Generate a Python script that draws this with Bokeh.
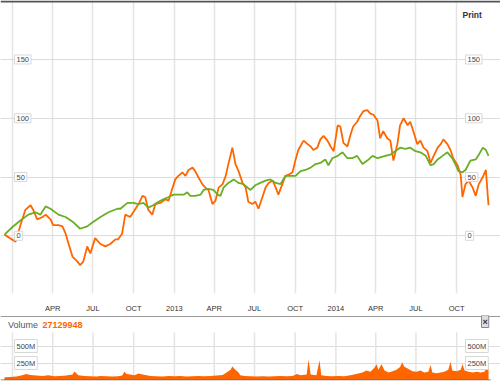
import pandas as pd
from bokeh.plotting import figure
from bokeh.layouts import column
from bokeh.models import Range1d, FixedTicker, CustomJSTickFormatter, Label
from bokeh.embed import file_html
from bokeh.resources import INLINE

# ---------------- data ----------------
x_start, x_end = "2011-12-05", "2015-01-08"
data_end = "2014-12-17"
grid_dates = ["2012-01-01", "2012-04-01", "2012-07-01", "2012-10-01", "2013-01-01", "2013-04-01",
              "2013-07-01", "2013-10-01", "2014-01-01", "2014-04-01", "2014-07-01", "2014-10-01"]
tick_dates = grid_dates[1:]
tick_labels = ["APR", "JUL", "OCT", "2013", "APR", "JUL", "OCT", "2014", "APR", "JUL", "OCT"]
price_ticks = [0, 50, 100, 150]
vol_ticks = [250e6, 500e6]
vol_tick_labels = ["250M", "500M"]
last_volume = "27129948"

orange_dates = ["2011-12-14", "2012-01-08", "2012-01-19", "2012-01-30", "2012-02-11", "2012-02-17", "2012-02-26",
                "2012-03-09", "2012-03-16", "2012-03-27", "2012-04-02", "2012-04-14", "2012-04-23", "2012-04-30",
                "2012-05-07", "2012-05-16", "2012-05-27", "2012-06-02", "2012-06-09", "2012-06-18", "2012-06-25",
                "2012-07-06", "2012-07-18", "2012-07-29", "2012-08-09", "2012-08-21", "2012-08-27", "2012-09-05",
                "2012-09-12", "2012-09-23", "2012-09-30", "2012-10-12", "2012-10-21", "2012-10-27", "2012-11-03",
                "2012-11-12", "2012-11-19", "2012-11-30", "2012-12-12", "2012-12-19", "2012-12-28", "2013-01-03",
                "2013-01-10", "2013-01-19", "2013-01-26", "2013-02-02", "2013-02-11", "2013-02-17", "2013-02-24",
                "2013-03-05", "2013-03-12", "2013-03-19", "2013-03-28", "2013-04-04", "2013-04-11", "2013-04-20",
                "2013-04-27", "2013-05-03", "2013-05-12", "2013-05-19", "2013-05-26", "2013-06-04", "2013-06-11",
                "2013-06-17", "2013-06-26", "2013-07-03", "2013-07-10", "2013-07-19", "2013-07-26", "2013-08-02",
                "2013-08-11", "2013-08-18", "2013-08-24", "2013-09-02", "2013-09-09", "2013-09-16", "2013-09-25",
                "2013-10-02", "2013-10-08", "2013-10-20", "2013-10-29", "2013-11-05", "2013-11-11", "2013-11-20",
                "2013-11-27", "2013-12-04", "2013-12-13", "2013-12-20", "2013-12-27", "2014-01-05", "2014-01-11",
                "2014-01-18", "2014-01-27", "2014-02-03", "2014-02-09", "2014-02-18", "2014-02-25", "2014-03-04",
                "2014-03-13", "2014-03-20", "2014-03-27", "2014-04-05", "2014-04-11", "2014-04-18", "2014-04-27",
                "2014-05-04", "2014-05-11", "2014-05-20", "2014-05-26", "2014-06-03", "2014-06-12", "2014-06-18",
                "2014-06-25", "2014-07-04", "2014-07-11", "2014-07-18", "2014-07-27", "2014-08-03", "2014-08-10",
                "2014-08-19", "2014-08-26", "2014-09-01", "2014-09-10", "2014-09-17", "2014-09-23", "2014-10-03",
                "2014-10-10", "2014-10-14", "2014-10-21", "2014-10-28", "2014-11-06", "2014-11-13", "2014-11-20",
                "2014-11-29", "2014-12-06", "2014-12-10", "2014-12-12"]
orange_values = [1, -5, 9, 22, 26, 22, 14,
                 16, 18, 14, 9, 9, 8, 2,
                 -7, -18, -22, -25, -22, -9, -15,
                 -2, -7, -9, -7, -3, -3, 2,
                 18, 16, 20, 27, 34, 33, 22,
                 18, 27, 28, 31, 30, 41, 48,
                 51, 54, 51, 56, 58, 55, 50,
                 44, 41, 39, 27, 30, 41, 44,
                 51, 61, 75, 61, 55, 45, 41,
                 29, 27, 29, 23, 33, 41, 45,
                 47, 41, 35, 44, 51, 52, 54,
                 65, 73, 81, 78, 76, 73, 75,
                 82, 85, 81, 76, 72, 94, 93,
                 79, 76, 86, 93, 97, 102, 106,
                 107, 104, 103, 98, 83, 89, 83,
                 81, 64, 78, 94, 100, 94, 97,
                 89, 78, 81, 75, 72, 62, 68,
                 75, 78, 82, 78, 73, 66, 60,
                 52, 33, 44, 47, 41, 34, 44,
                 50, 56, 35, 26]

green_dates = ["2011-12-14", "2012-01-01", "2012-01-19", "2012-02-06", "2012-02-22", "2012-03-04", "2012-03-16",
               "2012-03-27", "2012-04-14", "2012-04-30", "2012-05-16", "2012-06-02", "2012-06-18", "2012-07-02",
               "2012-07-18", "2012-08-05", "2012-08-25", "2012-09-01", "2012-09-17", "2012-09-30", "2012-10-12",
               "2012-10-23", "2012-11-03", "2012-11-14", "2012-11-26", "2012-12-07", "2012-12-19", "2012-12-30",
               "2013-01-10", "2013-01-22", "2013-01-30", "2013-02-06", "2013-02-17", "2013-03-01", "2013-03-08",
               "2013-03-19", "2013-03-30", "2013-04-09", "2013-04-15", "2013-04-22", "2013-05-03", "2013-05-15",
               "2013-05-26", "2013-06-06", "2013-06-22", "2013-07-03", "2013-07-14", "2013-07-26", "2013-08-06",
               "2013-08-18", "2013-08-29", "2013-09-09", "2013-09-20", "2013-10-02", "2013-10-13", "2013-10-24",
               "2013-11-05", "2013-11-16", "2013-11-27", "2013-12-08", "2013-12-15", "2013-12-24", "2014-01-05",
               "2014-01-16", "2014-01-27", "2014-02-07", "2014-02-18", "2014-03-02", "2014-03-13", "2014-03-25",
               "2014-04-05", "2014-04-23", "2014-05-04", "2014-05-15", "2014-05-26", "2014-06-07", "2014-06-18",
               "2014-06-30", "2014-07-11", "2014-07-23", "2014-08-03", "2014-08-10", "2014-08-19", "2014-08-30",
               "2014-09-10", "2014-09-21", "2014-09-28", "2014-10-05", "2014-10-14", "2014-10-21", "2014-11-01",
               "2014-11-13", "2014-11-20", "2014-11-29", "2014-12-06", "2014-12-12"]
green_values = [1, 7.5, 13, 18, 20, 18, 25,
                23, 18, 16, 12, 6, 8, 12,
                16, 20, 23, 23, 28, 28, 27,
                28, 24, 26, 29, 31, 33, 35,
                35, 35, 37, 34, 34, 35, 39,
                40, 39, 35, 34, 41, 45, 48,
                45, 44, 39, 43, 45, 47, 48,
                45, 44, 51, 51, 51, 55, 56,
                58, 61, 62, 65, 60, 66, 68,
                71, 66, 66, 68, 61, 64, 68,
                66, 68, 69, 72, 75, 74, 75,
                72, 71, 68, 60, 61, 65, 68,
                71, 66, 61, 55, 54, 56, 64,
                65, 69, 75, 73, 68]

volume_dates = ["2011-12-14", "2011-12-27", "2012-01-10", "2012-01-23", "2012-02-01", "2012-02-11", "2012-02-24",
                "2012-03-09", "2012-03-22", "2012-04-05", "2012-04-18", "2012-05-02", "2012-05-16", "2012-05-20",
                "2012-05-29", "2012-06-12", "2012-06-25", "2012-07-09", "2012-07-18", "2012-07-31", "2012-08-14",
                "2012-08-27", "2012-09-05", "2012-09-10", "2012-09-15", "2012-09-23", "2012-10-03", "2012-10-12",
                "2012-10-21", "2012-10-30", "2012-11-08", "2012-11-21", "2012-12-05", "2012-12-19", "2013-01-01",
                "2013-01-15", "2013-01-28", "2013-02-11", "2013-02-24", "2013-03-10", "2013-03-24", "2013-04-06",
                "2013-04-20", "2013-04-29", "2013-05-08", "2013-05-12", "2013-05-17", "2013-05-26", "2013-05-30",
                "2013-06-08", "2013-06-22", "2013-07-05", "2013-07-19", "2013-08-02", "2013-08-15", "2013-08-29",
                "2013-09-11", "2013-09-25", "2013-10-05", "2013-10-13", "2013-10-27", "2013-10-31", "2013-11-05",
                "2013-11-18", "2013-11-25", "2013-11-29", "2013-12-11", "2013-12-24", "2014-01-07", "2014-01-20",
                "2014-02-03", "2014-02-16", "2014-03-02", "2014-03-11", "2014-03-20", "2014-03-29", "2014-04-03",
                "2014-04-07", "2014-04-14", "2014-04-21", "2014-04-30", "2014-05-09", "2014-05-18", "2014-05-26",
                "2014-05-31", "2014-06-04", "2014-06-14", "2014-06-23", "2014-07-02", "2014-07-11", "2014-07-20",
                "2014-07-29", "2014-08-03", "2014-08-07", "2014-08-16", "2014-08-26", "2014-09-03", "2014-09-12",
                "2014-09-17", "2014-09-21", "2014-10-01", "2014-10-10", "2014-10-14", "2014-10-19", "2014-10-28",
                "2014-11-06", "2014-11-15", "2014-11-24", "2014-12-03", "2014-12-08", "2014-12-10", "2014-12-12"]
volume_millions = [40, 45, 50, 70, 90, 75, 65,
                   60, 70, 55, 60, 65, 80, 125,
                   70, 60, 55, 50, 60, 55, 50,
                   55, 65, 120, 90, 80, 70, 95,
                   80, 70, 60, 55, 50, 60, 55,
                   60, 50, 55, 60, 55, 60, 65,
                   75, 110, 150, 200, 160, 110, 70,
                   60, 55, 50, 55, 50, 55, 60,
                   55, 60, 90, 70, 80, 300, 80,
                   70, 290, 70, 60, 55, 60, 55,
                   70, 90, 110, 140, 120, 180, 230,
                   150, 230, 140, 110, 130, 150, 190,
                   260, 200, 160, 130, 120, 140, 110,
                   120, 220, 110, 100, 110, 120, 150,
                   270, 140, 130, 150, 230, 140, 120,
                   110, 120, 110, 120, 200, 260, 230]

# ---------------- helpers ----------------
def ms(s):
    return pd.Timestamp(s).value / 1e6

ORANGE = "#ff6600"
GREEN = "#6aae24"
FONT = "Liberation Sans"
GRID_V = "#e4e4e4"
GRID_H = "#dcdcdc"
W = 500

x_range = Range1d(ms(x_start), ms(x_end))
grid_ms = [ms(d) for d in grid_dates]
tick_ms = [ms(d) for d in tick_dates]
grid_bounds = (ms("2011-12-16"), ms(data_end))

# ---------------- price panel ----------------
y_lo, y_hi = -49.1, 200.2
px_p = (y_hi - y_lo) / 298.0
p = figure(width=W, height=315, x_axis_type="datetime", x_range=x_range,
           y_range=Range1d(y_lo, y_hi), y_axis_location=None,
           output_backend="svg", toolbar_location=None,
           min_border_left=0, min_border_right=0, min_border_top=0, min_border_bottom=17)
p.outline_line_color = None

p.xaxis.ticker = FixedTicker(ticks=tick_ms)
p.xaxis.formatter = CustomJSTickFormatter(args=dict(tick_vals=tick_ms, tick_names=tick_labels), code="""
for (let i = 0; i < tick_vals.length; i++) {
  if (Math.abs(tick_vals[i] - tick) < 86400000) return tick_names[i];
}
return "";
""")
p.xaxis.axis_line_color = None
p.xaxis.major_tick_line_color = None
p.xaxis.minor_tick_line_color = None
p.xaxis.major_label_standoff = 4
p.xaxis.major_label_text_font = FONT
p.xaxis.major_label_text_font_size = "7.5px"
p.xaxis.major_label_text_color = "#333333"

p.xgrid.ticker = FixedTicker(ticks=grid_ms)
p.xgrid.grid_line_color = GRID_V
p.xgrid.grid_line_width = 1.5
p.ygrid.ticker = FixedTicker(ticks=price_ticks)
p.ygrid.grid_line_color = GRID_H
p.ygrid.grid_line_width = 1
p.ygrid.bounds = grid_bounds

p.line(x=pd.to_datetime(orange_dates), y=orange_values, line_color=ORANGE, line_width=1.8)
p.line(x=pd.to_datetime(green_dates), y=green_values, line_color=GREEN, line_width=1.8)

# dark top border of the chart box
p.hspan(y=[y_hi - 0.9 * px_p], line_color="#555555", line_width=2)

for v in price_ticks:
    for sx in (14, 465):
        p.add_layout(Label(x=sx, x_units="screen", y=v, text=str(v), text_baseline="middle",
                           text_align="left", text_font=FONT, text_font_size="7.5px",
                           text_color="#444444", background_fill_color="white",
                           border_line_color="#d8d8d8", padding=2))

p.add_layout(Label(x=462, x_units="screen", y=y_hi - 15 * px_p, text="Print",
                   text_baseline="middle", text_align="left", text_font=FONT,
                   text_font_size="8.5px", text_font_style="bold", text_color="#333333"))

# ---------------- volume panel ----------------
px_v = 250e6 / 17.0
v_lo, v_hi = -0.5 * px_v, 64.5 * px_v
q = figure(width=W, height=70, x_axis_type="datetime", x_range=x_range,
           y_range=Range1d(v_lo, v_hi), x_axis_location=None, y_axis_location=None,
           output_backend="svg", toolbar_location=None,
           min_border_left=0, min_border_right=0, min_border_top=0, min_border_bottom=5)
q.outline_line_color = None
q.xgrid.visible = False
q.ygrid.ticker = FixedTicker(ticks=vol_ticks)
q.ygrid.grid_line_color = GRID_H
q.ygrid.bounds = grid_bounds

q.segment(x0=grid_ms, y0=[0] * len(grid_ms), x1=grid_ms, y1=[v_hi - 17 * px_v] * len(grid_ms),
          line_color=GRID_V, line_width=1.5)

q.varea(x=pd.to_datetime(volume_dates), y1=0, y2=[v * 1e6 for v in volume_millions],
        fill_color=ORANGE)
# baseline under the volume area and separator line above the panel
q.segment(x0=[ms(x_start)], y0=[0], x1=[grid_bounds[1]], y1=[0], line_color="#666666", line_width=1)
q.hspan(y=[v_hi - 0.5 * px_v], line_color="#999999", line_width=1)

for v, t in zip(vol_ticks, vol_tick_labels):
    for sx in (14, 465):
        q.add_layout(Label(x=sx, x_units="screen", y=v, text=t, text_baseline="middle",
                           text_align="left", text_font=FONT, text_font_size="7.5px",
                           text_color="#444444", background_fill_color="white",
                           border_line_color="#d8d8d8", padding=2))

q.add_layout(Label(x=7.5, x_units="screen", y=v_hi - 9 * px_v, text="Volume", text_baseline="middle",
                   text_font=FONT, text_font_size="9px", text_color="#555555"))
q.add_layout(Label(x=42, x_units="screen", y=v_hi - 9 * px_v, text=last_volume, text_baseline="middle",
                   text_font=FONT, text_font_size="9px", text_font_style="bold", text_color=ORANGE))
q.add_layout(Label(x=481, x_units="screen", y=v_hi - 6 * px_v, text="×", text_baseline="middle",
                   text_font=FONT, text_font_size="9px", text_font_style="bold", text_color="#333333",
                   background_fill_color="#dddddd", border_line_color="#888888", padding=1))

layout = column(p, q, spacing=0)
open("out.html", "w").write(file_html(layout, INLINE))
